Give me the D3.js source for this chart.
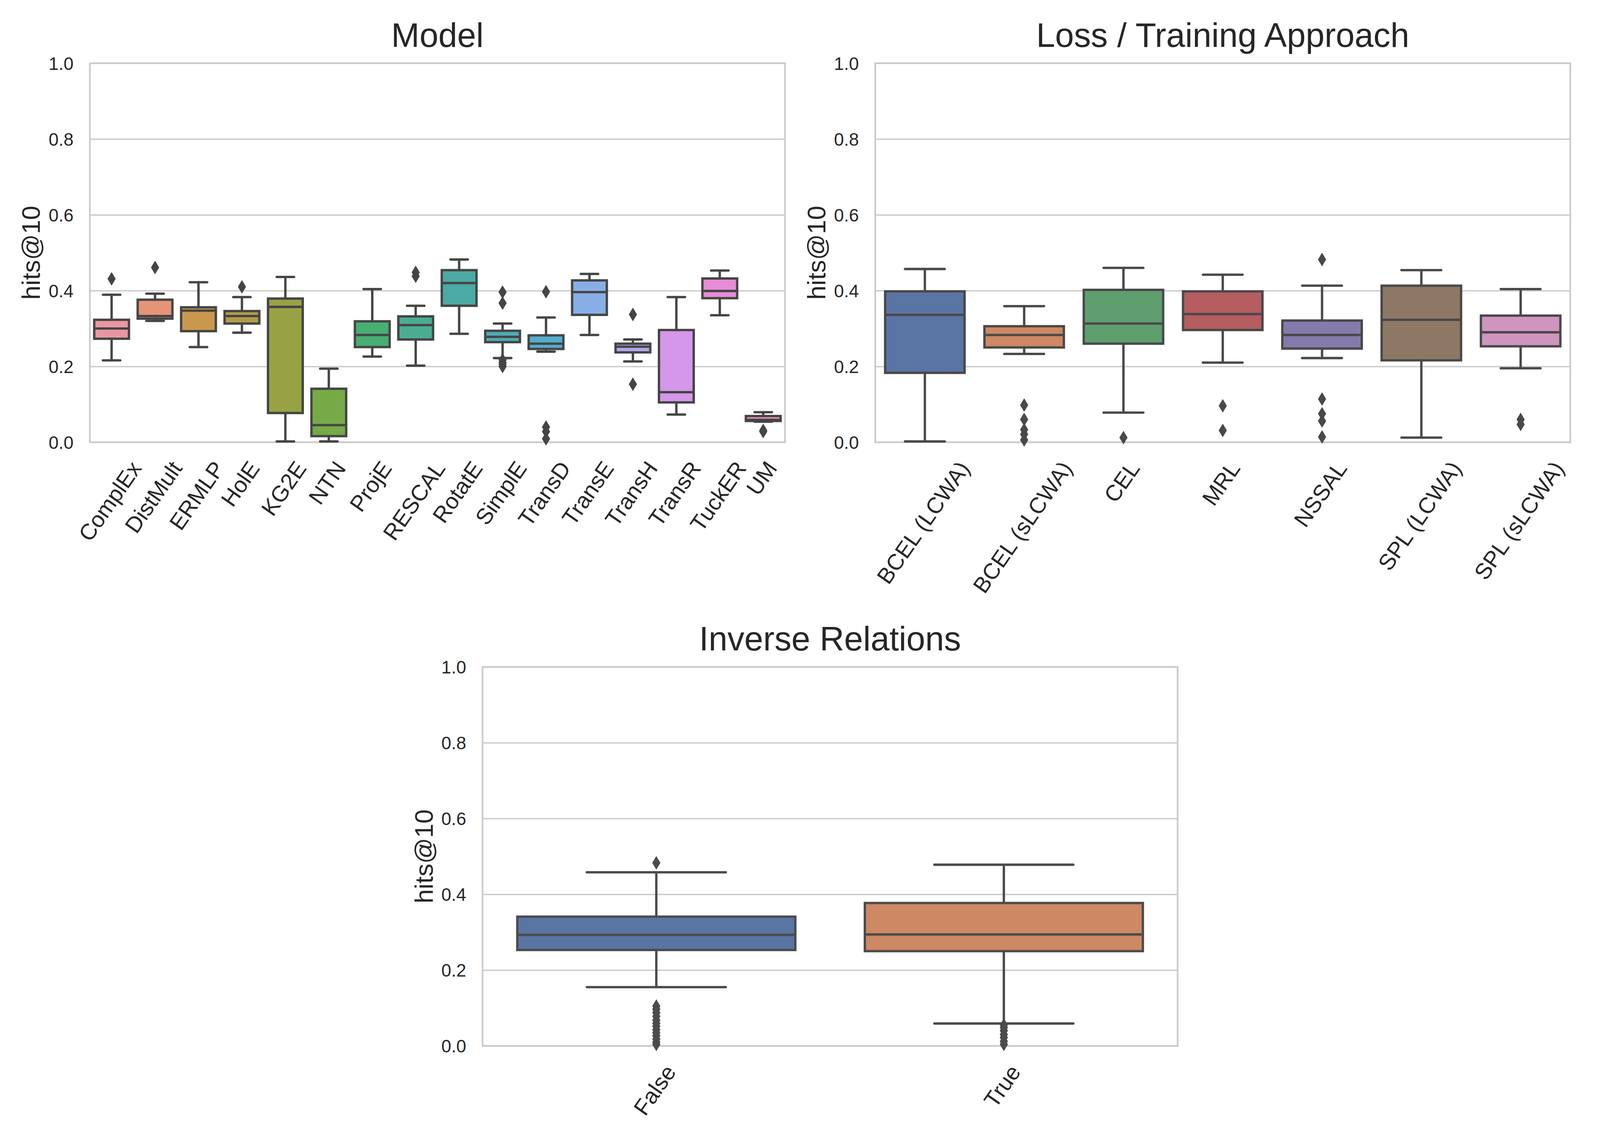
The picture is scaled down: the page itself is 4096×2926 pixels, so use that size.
<!DOCTYPE html>
<html><head><meta charset="utf-8">
<script src="https://cdn.jsdelivr.net/npm/d3@7"></script>
<style>
html,body{margin:0;padding:0;background:#fff;}
svg{display:block;background:#fff;}
text{font-family:"Liberation Sans",Arial,Helvetica,sans-serif;fill:#262626;}
</style>
</head><body>
<svg id="chart" width="4096" height="2926"></svg>
<script>
// ---------- DATA ----------
const yTicks = [0, 0.2, 0.4, 0.6, 0.8, 1.0];
const yLabel = "hits@10";

const modelTitle = "Model";
const modelCategories = ["ComplEx","DistMult","ERMLP","HolE","KG2E","NTN","ProjE","RESCAL","RotatE","SimplE","TransD","TransE","TransH","TransR","TuckER","UM"];
// [lower whisker, Q1, median, Q3, upper whisker]
const modelStats = [
  [0.216,0.273,0.300,0.323,0.389],
  [0.320,0.326,0.333,0.376,0.392],
  [0.251,0.293,0.347,0.356,0.422],
  [0.289,0.313,0.333,0.346,0.383],
  [0.002,0.077,0.357,0.379,0.436],
  [0.002,0.016,0.045,0.141,0.194],
  [0.226,0.251,0.283,0.319,0.404],
  [0.202,0.271,0.309,0.332,0.360],
  [0.286,0.360,0.420,0.454,0.482],
  [0.222,0.264,0.278,0.294,0.313],
  [0.239,0.246,0.260,0.282,0.329],
  [0.283,0.336,0.396,0.427,0.444],
  [0.213,0.237,0.252,0.260,0.271],
  [0.073,0.105,0.132,0.296,0.383],
  [0.335,0.380,0.399,0.432,0.453],
  [0.054,0.056,0.059,0.069,0.079]
];
const modelOutliers = [
  [0.431],[0.461],[],[0.410],[],[],[],[0.448,0.438],[],
  [0.396,0.367,0.217,0.210,0.205,0.200],
  [0.397,0.040,0.028,0.009],[],[0.337,0.153],[],[],[0.031,0.028]
];

const lossTitle = "Loss / Training Approach";
const lossCategories = ["BCEL (LCWA)","BCEL (sLCWA)","CEL","MRL","NSSAL","SPL (LCWA)","SPL (sLCWA)"];
const lossStats = [
  [0.002,0.183,0.336,0.398,0.457],
  [0.233,0.250,0.283,0.306,0.359],
  [0.078,0.260,0.313,0.402,0.460],
  [0.210,0.296,0.338,0.398,0.442],
  [0.222,0.247,0.283,0.321,0.413],
  [0.012,0.216,0.323,0.413,0.454],
  [0.195,0.253,0.290,0.334,0.404]
];
const lossOutliers = [
  [],[0.098,0.060,0.033,0.021,0.006],[0.012],[0.096,0.031],
  [0.482,0.114,0.075,0.056,0.014],[],[0.060,0.047]
];

const inverseTitle = "Inverse Relations";
const inverseCategories = ["False","True"];
const inverseStats = [
  [0.155,0.253,0.293,0.341,0.458],
  [0.059,0.250,0.294,0.377,0.478]
];
const inverseOutliers = [
  [0.483,0.105,0.097,0.088,0.078,0.068,0.060,0.052,0.043,0.035,0.027,0.018,0.010,0.004],
  [0.055,0.048,0.040,0.030,0.022,0.012,0.004]
];

const deepPalette = ["#4C72B0","#DD8452","#55A868","#C44E52","#8172B3","#937860","#DA8BC3","#8C8C8C","#CCB974","#64B5CD"];

// ---------- COLOUR HELPERS (seaborn husl palette + desaturation) ----------
function huslToRgb(H, S, L) {
  const m = [[3.240969941904521,-1.537383177570093,-0.498610760293],
             [-0.96924363628087,1.87596750150772,0.041555057407175],
             [0.055630079696993,-0.20397695888897,1.056971514242878]];
  const refU = 0.19783000664283, refV = 0.46831999493879, kappa = 903.2962962, epsilon = 0.0088564516;
  let C;
  if (L > 99.9999999) { L = 100; C = 0; }
  else if (L < 1e-8) { return [0,0,0]; }
  else {
    const hrad = H*Math.PI/180, sinH = Math.sin(hrad), cosH = Math.cos(hrad);
    const sub1 = Math.pow(L+16,3)/1560896, sub2 = sub1 > epsilon ? sub1 : L/kappa;
    let result = Infinity;
    for (const [m1,m2,m3] of m) {
      const top = (0.99915*m1 + 1.05122*m2 + 1.14460*m3)*sub2;
      const rbottom = 0.86330*m3 - 0.17266*m2;
      const lbottom = 0.12949*m3 - 0.38848*m1;
      const bottom = (rbottom*sinH + lbottom*cosH)*sub2;
      for (const t of [0,1]) {
        const c = L*(top - 1.05122*t)/(bottom + 0.17266*sinH*t);
        if (c > 0 && c < result) result = c;
      }
    }
    C = result/100*S;
  }
  const hr = H*Math.PI/180;
  const U = Math.cos(hr)*C, V = Math.sin(hr)*C;
  const t = (L+16)/116;
  const Y = Math.pow(t,3) > epsilon ? Math.pow(t,3) : (116*t-16)/kappa;
  const varU = U/(13*L)+refU, varV = V/(13*L)+refV;
  const X = -(9*Y*varU)/((varU-4)*varV - varU*varV);
  const Z = (9*Y - 15*varV*Y - varV*X)/(3*varV);
  return m.map(r => {
    const c = r[0]*X + r[1]*Y + r[2]*Z;
    const v = c <= 0.0031308 ? 12.92*c : 1.055*Math.pow(c,1/2.4)-0.055;
    return Math.min(1, Math.max(0, v));
  });
}
function huslPalette(n, l) {
  const out = [];
  for (let i = 0; i < n; i++) {
    const h = ((i/n + 0.01) % 1) * 359;
    const rgb = huslToRgb(h, 0.9*99, l*99);
    out.push(d3.rgb(rgb[0]*255, rgb[1]*255, rgb[2]*255).formatHex());
  }
  return out;
}
function desaturate(c, p) {
  const h = d3.hsl(c); h.s *= p; return h.formatHex();
}
function boxGray(colors) {
  const lum = d3.min(colors, c => d3.hsl(c).l) * 0.6;
  const v = Math.round(lum*255);
  return d3.rgb(v,v,v).formatHex();
}

// ---------- DRAWING ----------
const svg = d3.select("#chart");
svg.append("rect").attr("width",4096).attr("height",2926).attr("fill","#fff");
const root = svg.append("g").attr("transform","scale(0.975)");

const FONT_TICK = 47, FONT_XTICK = 59, FONT_LABEL = 67, FONT_TITLE = 89;
const LW = 6.2;
const ROT = 55;

function drawPanel(p) {
  const g = root.append("g");
  const colors = p.colors.map(c => desaturate(c, 0.75));
  const gray = boxGray(colors);
  const x = d3.scaleBand().domain(p.categories).range([p.left, p.right]);
  const y = d3.scaleLinear().domain([0, 1]).range([p.bottom, p.top]);
  const W = p.right - p.left;

  // grid
  const grid = g.append("g").attr("transform", `translate(${p.left},0)`)
    .call(d3.axisLeft(y).tickValues(yTicks).tickSize(-W).tickFormat(""));
  grid.select(".domain").remove();
  grid.selectAll("line").attr("stroke","#cccccc").attr("stroke-width",3.6);

  // frame
  g.append("rect").attr("x",p.left).attr("y",p.top).attr("width",W).attr("height",p.bottom-p.top)
    .attr("fill","none").attr("stroke","#cccccc").attr("stroke-width",4.6);

  // y axis labels
  const ya = g.append("g").attr("transform", `translate(${p.left},0)`)
    .call(d3.axisLeft(y).tickValues(yTicks).tickFormat(d3.format(".1f")).tickSize(0).tickPadding(43));
  ya.select(".domain").remove();
  ya.selectAll("text").attr("font-size",FONT_TICK).attr("dy","0.36em")
    .attr("fill","#262626").attr("font-family",'"Liberation Sans",Arial,sans-serif');

  // x axis labels
  const xa = g.append("g").attr("transform", `translate(0,${p.bottom})`)
    .call(d3.axisBottom(x).tickSize(0));
  xa.select(".domain").remove();
  const rad = ROT*Math.PI/180, cs = Math.cos(rad), sn = Math.sin(rad);
  const asc = 0.73*FONT_XTICK, desc = 0.21*FONT_XTICK, pad = 44;
  xa.selectAll("text")
    .attr("font-size",FONT_XTICK).attr("fill","#262626")
    .attr("font-family",'"Liberation Sans",Arial,sans-serif')
    .attr("text-anchor","end").attr("dy",null).attr("y",0).attr("x",0)
    .each(function() {
      const L = this.getComputedTextLength();
      const ax = (L*cs + (asc - desc)*sn)/2;
      const ay = pad + asc*cs;
      d3.select(this).attr("transform", `translate(${ax},${ay}) rotate(${-ROT})`);
    });

  // title
  g.append("text").attr("x",(p.left+p.right)/2).attr("y",p.top-43)
    .attr("text-anchor","middle").attr("font-size",FONT_TITLE).text(p.title);

  // y label
  g.append("text").attr("transform",`translate(${p.left-131},${(p.top+p.bottom)/2}) rotate(-90)`)
    .attr("text-anchor","middle").attr("font-size",FONT_LABEL).text(yLabel);

  // boxes
  const bw = x.bandwidth(), w = bw*0.8;
  const boxes = g.append("g");
  p.categories.forEach((cat, i) => {
    const [lo, q1, med, q3, hi] = p.stats[i];
    const cx = x(cat) + bw/2;
    const b = boxes.append("g");
    b.append("rect").attr("x",cx-w/2).attr("y",y(q3)).attr("width",w).attr("height",y(q1)-y(q3))
      .attr("fill",colors[i]).attr("stroke",gray).attr("stroke-width",LW);
    const ln = (x1,y1,x2,y2) => b.append("line").attr("x1",x1).attr("y1",y1).attr("x2",x2).attr("y2",y2)
      .attr("stroke",gray).attr("stroke-width",LW).attr("stroke-linecap","round");
    ln(cx, y(q1), cx, y(lo));
    ln(cx, y(q3), cx, y(hi));
    ln(cx-w/4, y(lo), cx+w/4, y(lo));
    ln(cx-w/4, y(hi), cx+w/4, y(hi));
    b.append("line").attr("x1",cx-w/2).attr("x2",cx+w/2).attr("y1",y(med)).attr("y2",y(med))
      .attr("stroke",gray).attr("stroke-width",LW);
    const hh = 15, hw = 9;
    p.outliers[i].forEach(v => {
      const yy = y(v);
      b.append("path").attr("d",`M${cx},${yy-hh}L${cx+hw},${yy}L${cx},${yy+hh}L${cx-hw},${yy}Z`)
        .attr("fill",gray).attr("stroke",gray).attr("stroke-width",3);
    });
  });
}

drawPanel({title: modelTitle, categories: modelCategories, stats: modelStats, outliers: modelOutliers,
  colors: huslPalette(modelCategories.length, 0.7), left: 236, right: 2061, top: 166, bottom: 1161});
drawPanel({title: lossTitle, categories: lossCategories, stats: lossStats, outliers: lossOutliers,
  colors: deepPalette.slice(0, lossCategories.length), left: 2298, right: 4123, top: 166, bottom: 1161});
drawPanel({title: inverseTitle, categories: inverseCategories, stats: inverseStats, outliers: inverseOutliers,
  colors: deepPalette.slice(0, inverseCategories.length), left: 1267, right: 3092, top: 1751, bottom: 2746});
</script>
</body></html>
